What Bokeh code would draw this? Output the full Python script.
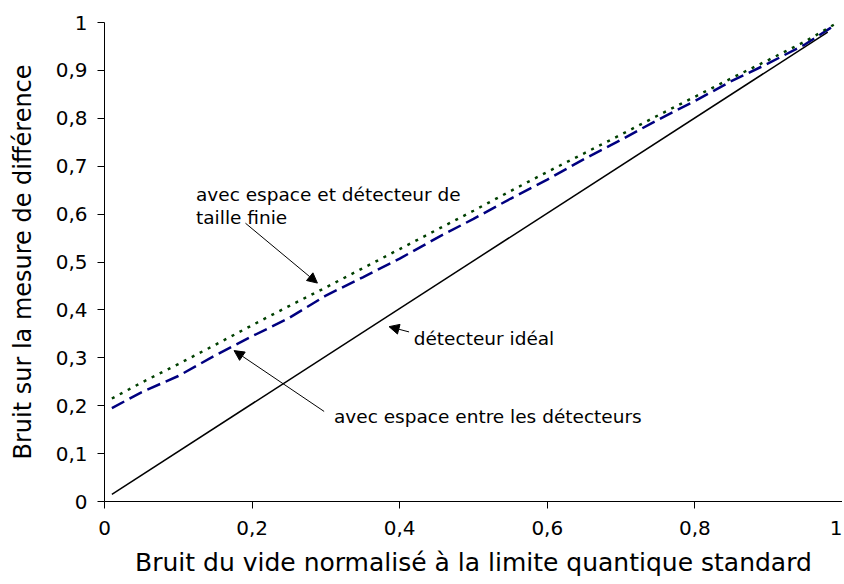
from bokeh.plotting import figure
from bokeh.models import Range1d, FixedTicker, Arrow, NormalHead, Label
from bokeh.embed import file_html
from bokeh.resources import INLINE

# ---- data ----
x_vals = [0.01, 0.05, 0.1, 0.15, 0.2, 0.25, 0.3, 0.35, 0.4, 0.45, 0.5,
          0.55, 0.6, 0.65, 0.7, 0.75, 0.8, 0.85, 0.9, 0.95, 0.99]
espace_detecteurs = [0.195, 0.228, 0.262, 0.305, 0.345, 0.383, 0.430, 0.468, 0.507, 0.550, 0.590,
                     0.632, 0.672, 0.715, 0.755, 0.797, 0.836, 0.878, 0.915, 0.955, 0.995]
espace_taille_finie = [0.215, 0.248, 0.287, 0.327, 0.368, 0.408, 0.447, 0.487, 0.527, 0.567, 0.607,
                       0.648, 0.688, 0.727, 0.766, 0.806, 0.845, 0.884, 0.922, 0.961, 0.997]
ideal_x = [0.01, 0.98]
ideal_y = [0.015, 0.98]

x_ticks = [0, 0.2, 0.4, 0.6, 0.8, 1]
x_tick_labels = ["0", "0,2", "0,4", "0,6", "0,8", "1"]
y_ticks = [0, 0.1, 0.2, 0.3, 0.4, 0.5, 0.6, 0.7, 0.8, 0.9, 1]
y_tick_labels = ["0", "0,1", "0,2", "0,3", "0,4", "0,5", "0,6", "0,7", "0,8", "0,9", "1"]
x_title = "Bruit du vide normalisé à la limite quantique standard"
y_title = "Bruit sur la mesure de différence"

FONT = "DejaVu Sans"

p = figure(frame_width=738, frame_height=479, output_backend="svg", toolbar_location=None,
           x_range=Range1d(0, 1), y_range=Range1d(0, 1),
           min_border_left=104, min_border_right=0, min_border_top=22, min_border_bottom=82)
p.outline_line_color = None
p.grid.visible = False
p.background_fill_color = "white"
p.border_fill_color = "white"

# axes
p.xaxis.ticker = FixedTicker(ticks=x_ticks)
p.xaxis.major_label_overrides = {t: l for t, l in zip(x_ticks, x_tick_labels)}
p.yaxis.ticker = FixedTicker(ticks=y_ticks)
p.yaxis.major_label_overrides = {t: l for t, l in zip(y_ticks, y_tick_labels)}
for ax in (p.xaxis[0], p.yaxis[0]):
    ax.minor_tick_line_color = None
    ax.major_tick_in = 0
    ax.major_tick_out = 7
    ax.axis_line_color = "black"
    ax.major_tick_line_color = "black"
    ax.major_label_text_font = FONT
    ax.major_label_text_font_size = "20px"
    ax.major_label_text_color = "black"
    ax.axis_label_text_font = FONT
    ax.axis_label_text_font_style = "normal"
    ax.axis_label_text_color = "black"
p.xaxis.axis_label = x_title
p.yaxis.axis_label = y_title
p.xaxis.axis_label_text_font_size = "25px"
p.yaxis.axis_label_text_font_size = "24px"
p.xaxis.major_label_standoff = 12
p.yaxis.major_label_standoff = 10
p.xaxis.axis_label_standoff = 10
p.yaxis.axis_label_standoff = 16

# lines
p.line(ideal_x, ideal_y, line_color="black", line_width=1.5)
p.line(x_vals, espace_detecteurs, line_color="#000080", line_width=2.5, line_dash="14 6")
p.line(x_vals, espace_taille_finie, line_color="#004000", line_width=2.5, line_dash="3 6")

# annotations
def ann_text(x, y, t):
    p.add_layout(Label(x=x, y=y, text=t, text_font=FONT, text_font_size="18.5px",
                       text_color="black", text_baseline="alphabetic", text_align="left"))

def arrow(x0, y0, x1, y1):
    p.add_layout(Arrow(x_start=x0, y_start=y0, x_end=x1, y_end=y1, line_width=1, line_color="black",
                       end=NormalHead(size=10, fill_color="black", line_color="black")))

ann_text(0.124, 0.64, "avec espace et détecteur de")
ann_text(0.124, 0.592, "taille finie")
arrow(0.191, 0.581, 0.2885, 0.456)

ann_text(0.419, 0.341, "détecteur idéal")
arrow(0.4127, 0.354, 0.3856, 0.365)

ann_text(0.311, 0.177, "avec espace entre les détecteurs")
arrow(0.2976, 0.188, 0.1756, 0.315)

open("out.html", "w").write(file_html(p, INLINE))
